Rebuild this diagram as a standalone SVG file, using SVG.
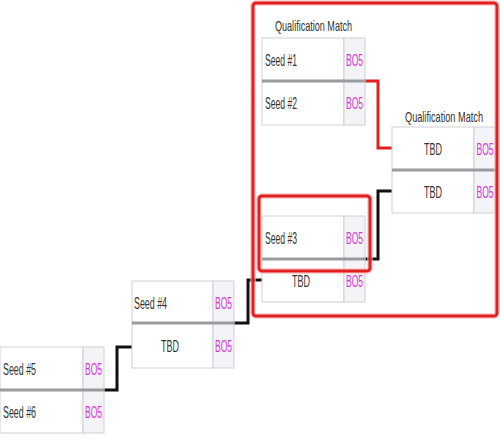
<svg xmlns="http://www.w3.org/2000/svg" width="500" height="440" viewBox="0 0 500 440">
<style>
.row{fill:#ffffff;stroke:#cfcfd4;stroke-width:1}
.bo{fill:#f4f4f8;stroke:#cfcfd4;stroke-width:1}
.sep{stroke:#9a9aa0;stroke-width:3}
.t{font-family:"Liberation Sans",Arial,sans-serif;font-size:16px;fill:#333333}
.b{font-family:"Liberation Sans",Arial,sans-serif;font-size:16px;fill:#d633d6;text-anchor:middle}
.c{text-anchor:middle}
.lbl{font-family:"Liberation Sans",Arial,sans-serif;font-size:15px;fill:#333333;text-anchor:middle}
.con{fill:none;stroke:#111111;stroke-width:3}
.red{fill:none;stroke:#e02020;stroke-width:3}
.hl{fill:none;stroke:#e02020;stroke-width:3}
.glow{fill:none;stroke:#f6b5b5;stroke-width:6;opacity:0.6}
</style>
<rect width="500" height="440" fill="#ffffff"/>
<g id="connectors">
<path class="con" d="M104 390 H117 V347 H132"/>
<path class="con" d="M234 323 H248 V280 H262"/>
<path class="con" d="M365 259 H378 V191 H393"/>
<path class="red" d="M365 81 H378 V148 H393"/>
</g>
<g id="match-a">
<text class="lbl" x="313.5" y="31" textLength="77" lengthAdjust="spacingAndGlyphs">Qualification Match</text>
<rect class="row" x="262" y="38" width="82" height="43"/>
<rect class="bo" x="344" y="38" width="21" height="43"/>
<rect class="row" x="262" y="81" width="82" height="44"/>
<rect class="bo" x="344" y="81" width="21" height="44"/>
<line class="sep" x1="262" y1="81" x2="365" y2="81"/>
<text class="t" x="265" y="66" textLength="32" lengthAdjust="spacingAndGlyphs">Seed #1</text>
<text class="b" x="354.5" y="66" textLength="17" lengthAdjust="spacingAndGlyphs">BO5</text>
<text class="t" x="265" y="109" textLength="32" lengthAdjust="spacingAndGlyphs">Seed #2</text>
<text class="b" x="354.5" y="109" textLength="17" lengthAdjust="spacingAndGlyphs">BO5</text>
</g>
<g id="match-b">
<text class="lbl" x="444" y="122" textLength="78" lengthAdjust="spacingAndGlyphs">Qualification Match</text>
<rect class="row" x="392" y="127" width="82" height="43"/>
<rect class="bo" x="474" y="127" width="22" height="43"/>
<rect class="row" x="392" y="170" width="82" height="43"/>
<rect class="bo" x="474" y="170" width="22" height="43"/>
<line class="sep" x1="392" y1="170" x2="496" y2="170"/>
<text class="t c" x="433" y="155" textLength="18" lengthAdjust="spacingAndGlyphs">TBD</text>
<text class="b" x="485" y="155" textLength="17" lengthAdjust="spacingAndGlyphs">BO5</text>
<text class="t c" x="433" y="198" textLength="18" lengthAdjust="spacingAndGlyphs">TBD</text>
<text class="b" x="485" y="198" textLength="17" lengthAdjust="spacingAndGlyphs">BO5</text>
</g>
<g id="match-c">
<rect class="row" x="262" y="216" width="82" height="43"/>
<rect class="bo" x="344" y="216" width="21" height="43"/>
<rect class="row" x="262" y="259" width="82" height="43"/>
<rect class="bo" x="344" y="259" width="21" height="43"/>
<line class="sep" x1="262" y1="259" x2="365" y2="259"/>
<text class="t" x="265" y="244" textLength="32" lengthAdjust="spacingAndGlyphs">Seed #3</text>
<text class="b" x="354.5" y="244" textLength="17" lengthAdjust="spacingAndGlyphs">BO5</text>
<text class="t c" x="301" y="287" textLength="18" lengthAdjust="spacingAndGlyphs">TBD</text>
<text class="b" x="354.5" y="287" textLength="17" lengthAdjust="spacingAndGlyphs">BO5</text>
</g>
<g id="match-d">
<rect class="row" x="132" y="281" width="81" height="42"/>
<rect class="bo" x="213" y="281" width="21" height="42"/>
<rect class="row" x="132" y="323" width="81" height="45"/>
<rect class="bo" x="213" y="323" width="21" height="45"/>
<line class="sep" x1="132" y1="323" x2="234" y2="323"/>
<text class="t" x="134" y="309" textLength="33" lengthAdjust="spacingAndGlyphs">Seed #4</text>
<text class="b" x="223.5" y="309" textLength="17" lengthAdjust="spacingAndGlyphs">BO5</text>
<text class="t c" x="170" y="352" textLength="18" lengthAdjust="spacingAndGlyphs">TBD</text>
<text class="b" x="223.5" y="352" textLength="17" lengthAdjust="spacingAndGlyphs">BO5</text>
</g>
<g id="match-e">
<rect class="row" x="0" y="347" width="83" height="43"/>
<rect class="bo" x="83" y="347" width="21" height="43"/>
<rect class="row" x="0" y="390" width="83" height="43"/>
<rect class="bo" x="83" y="390" width="21" height="43"/>
<line class="sep" x1="0" y1="390" x2="104" y2="390"/>
<text class="t" x="3" y="375" textLength="33" lengthAdjust="spacingAndGlyphs">Seed #5</text>
<text class="b" x="93.5" y="375" textLength="17" lengthAdjust="spacingAndGlyphs">BO5</text>
<text class="t" x="3" y="418" textLength="33" lengthAdjust="spacingAndGlyphs">Seed #6</text>
<text class="b" x="93.5" y="418" textLength="17" lengthAdjust="spacingAndGlyphs">BO5</text>
</g>
<g id="highlight-seed3">
<rect class="glow" x="259" y="196" width="111" height="75" rx="3"/>
<rect class="hl" x="259" y="196" width="111" height="75" rx="3"/>
</g>
<g id="highlight-region">
<rect class="glow" x="253" y="3" width="244" height="313" rx="3"/>
<rect class="hl" x="253" y="3" width="244" height="313" rx="3"/>
</g>
</svg>
